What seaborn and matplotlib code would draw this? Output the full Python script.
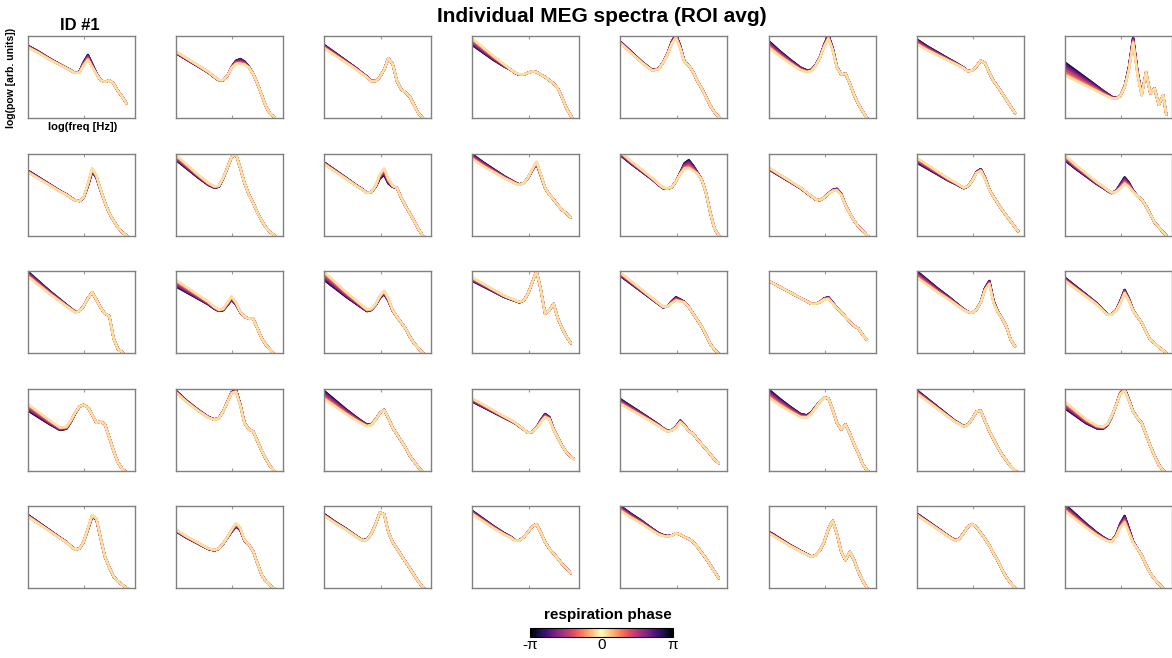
import numpy as np
import pandas as pd
import matplotlib
matplotlib.use("Agg")
import matplotlib.pyplot as plt
import seaborn as sns
from matplotlib.colors import ListedColormap, Normalize
from matplotlib.cm import ScalarMappable

sns.set_theme(style="white")
plt.rcParams["font.family"] = ["Liberation Sans", "DejaVu Sans"]
plt.rcParams["text.color"] = "black"
plt.rcParams["xtick.color"] = "black"

nan = np.nan
# frequency grid (Hz) shared by all spectra
FREQ_HZ = [1.0, 1.55, 2.4, 3.7, 4.8, 5.75, 6.85, 8.2, 9.7, 11.6, 13.8, 16.4,
           19.6, 23.3, 27.8, 33.1, 39.4, 47.0, 56.0, 63.8]

# phase-averaged log power per participant (arb. units)
ID01 = [.87, .80, .72, .65, .61, .58, .55, .56, .66, .74, .64, .54, .46, .44, .46, .42, .33, .26, .18, nan]
ID02 = [.80, .72, .64, .56, .50, .46, .46, .52, .62, .68, .69, .67, .62, .54, .42, .28, .14, .05, .01, nan]
ID03 = [.87, .78, .69, .60, .54, .50, .45, .45, .50, .59, .73, .66, .45, .35, .31, .26, .16, .06, 0.0, -.05]
ID04 = [.93, .83, .73, .64, .59, .55, .53, .53, .55, .57, .56, .53, .50, .46, .42, .36, .25, .12, .03, -.03]
ID05 = [.92, .80, .68, .58, .60, .68, .78, .92, 1.0, .86, .68, .64, .56, .45, .36, .26, .15, .07, .01, -.03]
ID06 = [.90, .79, .69, .60, .57, .58, .64, .74, .88, .99, .84, .62, .53, .54, .42, .28, .17, .08, 0.0, -.04]
ID07 = [.93, .85, .78, .71, .67, .64, .61, .57, .58, .63, .70, .67, .55, .45, .38, .30, .22, .14, .06, nan]
ID08 = [.60, .52, .44, .36, .31, .28, .25, .24, .27, .38, .60, .95, .55, .28, .56, .30, .36, .16, .28, .04]
ID09 = [.78, .70, .62, .54, .50, .46, .43, .42, .46, .62, .80, .72, .55, .40, .27, .18, .10, .04, 0.0, -.03]
ID10 = [.95, .84, .73, .63, .59, .60, .70, .83, .96, .99, .82, .64, .50, .40, .28, .18, .10, .04, 0.0, -.03]
ID11 = [.88, .79, .70, .61, .56, .52, .53, .60, .72, .78, .66, .60, .58, .46, .36, .27, .18, .08, 0.0, -.03]
ID12 = [.96, .87, .79, .71, .67, .64, .62, .64, .70, .80, .89, .74, .58, .50, .44, .37, .31, .27, .22, nan]
ID13 = [1.0, .89, .79, .69, .62, .58, .57, .59, .66, .76, .85, .87, .82, .76, .68, .52, .28, .08, 0.0, -.03]
ID14 = [.82, .74, .66, .58, .52, .48, .44, .43, .46, .51, .55, .56, .50, .37, .27, .18, .11, .06, 0.0, -.03]
ID15 = [.92, .84, .76, .68, .64, .61, .58, .60, .67, .77, .80, .70, .56, .47, .39, .31, .24, .17, .10, .05]
ID16 = [.95, .84, .74, .64, .59, .55, .52, .54, .60, .67, .62, .54, .48, .44, .36, .26, .16, .10, .04, 0.0]
ID17 = [.96, .85, .74, .64, .58, .54, .50, .51, .57, .67, .74, .65, .55, .48, .45, .18, .05, .01, -.04, nan]
ID18 = [.85, .77, .69, .61, .55, .52, .53, .60, .67, .60, .50, .44, .42, .42, .30, .18, .10, .04, -.02, nan]
ID19 = [.94, .83, .72, .62, .56, .52, .53, .59, .68, .74, .65, .52, .44, .37, .30, .20, .12, .06, 0.0, -.03]
ID20 = [.90, .83, .76, .69, .66, .64, .62, .64, .72, .86, 1.0, .78, .48, .52, .60, .42, .30, .20, .12, nan]
ID21 = [.96, .86, .76, .66, .60, .56, .57, .62, .66, .64, .62, .56, .48, .40, .32, .22, .11, .04, -.01, nan]
ID22 = [.88, .81, .74, .67, .63, .60, .60, .62, .66, .67, .61, .55, .50, .44, .38, .33, .30, .22, .16, nan]
ID23 = [.96, .86, .76, .67, .61, .57, .53, .50, .49, .53, .62, .78, .86, .62, .50, .42, .32, .16, .08, nan]
ID24 = [.90, .80, .70, .60, .52, .47, .47, .52, .62, .75, .65, .52, .44, .37, .26, .16, .12, .07, .03, 0.0]
ID25 = [.77, .68, .59, .51, .52, .60, .70, .78, .80, .77, .68, .58, .60, .56, .40, .24, .10, .02, -.02, nan]
ID26 = [.96, .84, .74, .65, .62, .64, .72, .84, .95, .97, .80, .58, .50, .48, .36, .24, .14, .05, -.01, nan]
ID27 = [.92, .82, .72, .63, .58, .55, .56, .62, .70, .74, .64, .52, .44, .36, .28, .18, .11, .04, -.02, nan]
ID28 = [.86, .79, .72, .65, .61, .58, .54, .50, .46, .47, .52, .60, .67, .64, .50, .40, .30, .22, .17, .14]
ID29 = [.84, .76, .68, .60, .55, .51, .48, .49, .53, .60, .55, .48, .45, .38, .32, .26, .20, .13, .09, nan]
ID30 = [.94, .84, .75, .67, .66, .70, .77, .84, .89, .88, .74, .58, .50, .56, .45, .32, .21, .08, 0.0, -.03]
ID31 = [.96, .86, .76, .66, .60, .57, .54, .56, .63, .72, .73, .60, .48, .38, .28, .19, .12, .05, 0.0, -.03]
ID32 = [.80, .70, .60, .53, .52, .56, .66, .80, .94, .99, .86, .72, .64, .58, .44, .30, .18, .07, 0.0, -.03]
ID33 = [.88, .79, .70, .61, .56, .51, .47, .48, .56, .72, .88, .84, .60, .38, .25, .14, .08, .04, 0.0, -.03]
ID34 = [.70, .62, .55, .48, .46, .48, .54, .62, .70, .77, .72, .58, .53, .45, .30, .16, .08, .03, -.01, nan]
ID35 = [.89, .80, .72, .63, .58, .59, .66, .78, .92, .90, .68, .56, .48, .40, .32, .24, .16, .08, .01, -.02]
ID36 = [.92, .83, .74, .66, .62, .58, .58, .62, .68, .75, .78, .68, .56, .48, .42, .36, .29, .24, .18, nan]
ID37 = [.97, .88, .80, .71, .66, .64, .63, .64, .67, .65, .62, .60, .56, .50, .43, .36, .28, .20, .12, nan]
ID38 = [.68, .60, .52, .45, .41, .38, .40, .46, .56, .72, .82, .66, .44, .34, .44, .34, .20, .09, 0.0, -.03]
ID39 = [.90, .81, .72, .63, .58, .60, .67, .75, .78, .74, .67, .60, .52, .42, .33, .22, .13, .06, 0.0, -.03]
ID40 = [.98, .87, .76, .66, .61, .58, .57, .64, .76, .84, .70, .56, .48, .40, .28, .18, .11, .05, 0.0, -.03]

SUBJECTS = [ID01, ID02, ID03, ID04, ID05, ID06, ID07, ID08, ID09, ID10,
            ID11, ID12, ID13, ID14, ID15, ID16, ID17, ID18, ID19, ID20,
            ID21, ID22, ID23, ID24, ID25, ID26, ID27, ID28, ID29, ID30,
            ID31, ID32, ID33, ID34, ID35, ID36, ID37, ID38, ID39, ID40]

# respiration-phase modulation (half range; + = phases near ±pi higher)
SPREAD_LOW = [0.01, -0.01, 0.02, -0.04, 0.01, 0.04, 0.03, 0.08,
              0.01, -0.03, 0.01, 0.03, -0.02, -0.01, -0.03, -0.03,
              0.03, -0.04, -0.05, -0.02, -0.02, 0.0, 0.04, 0.02,
              -0.04, 0.01, 0.05, -0.02, 0.03, 0.05, 0.02, -0.04,
              0.01, -0.01, 0.01, 0.02, 0.03, 0.01, 0.01, 0.04]
SPREAD_PEAK = [0.03, 0.03, 0.0, 0.01, 0.02, 0.02, 0.0, 0.03,
               -0.02, 0.0, -0.04, -0.01, 0.05, 0.01, 0.01, 0.04,
               0.0, -0.02, -0.02, 0.0, 0.02, 0.01, 0.02, 0.02,
               0.0, 0.01, 0.0, 0.02, 0.01, 0.0, 0.0, 0.01,
               -0.01, -0.02, 0.0, 0.0, 0.0, 0.0, 0.0, 0.04]

N_PHASE = 16
PHASES = np.linspace(-np.pi, np.pi, N_PHASE, endpoint=False) + np.pi / N_PHASE

W, H = 1172, 658
fig = plt.figure(figsize=(W / 100, H / 100), dpi=100)

logf = np.log10(FREQ_HZ)
XMAX = 1.9
xn = logf / XMAX
w_low = np.clip(1 - xn / 0.5, 0, 1)

for i, sub in enumerate(SUBJECTS):
    r, c = divmod(i, 8)
    left = 28 + c * 148.1
    top = 36 + r * 117.5
    ax = fig.add_axes([left / W, 1 - (top + 82) / H, 107 / W, 82 / H])
    base = np.array(sub, float)
    masked = np.where(xn >= 0.3, np.nan_to_num(base, nan=-9), -9)
    xpk = xn[np.argmax(masked)]
    w_pk = np.exp(-((xn - xpk) / 0.06) ** 2)
    rows = []
    for k, ph in enumerate(PHASES):
        y = base - np.cos(ph) * (SPREAD_LOW[i] * w_low + SPREAD_PEAK[i] * w_pk)
        tone = 1 - abs(ph) / np.pi
        for xv, yv in zip(logf, y):
            if np.isfinite(yv):
                rows.append((xv, yv, tone, k))
    df = pd.DataFrame(rows, columns=["logf", "pow", "tone", "phase"])
    sns.lineplot(data=df, x="logf", y="pow", hue="tone", units="phase",
                 estimator=None, palette="magma", hue_norm=(0, 1),
                 legend=False, linewidth=1.6, alpha=0.85, sort=False, ax=ax)
    ax.set_xlim(0, XMAX)
    ax.set_ylim(0, 1)
    ax.set_xlabel("")
    ax.set_ylabel("")
    ax.set_xticks([1.0])
    ax.set_yticks([])
    ax.tick_params(axis="x", direction="in", length=2, top=True, bottom=True,
                   labelbottom=False, color="0.6", width=0.8)
    for sp in ax.spines.values():
        sp.set_color("0.5")
        sp.set_linewidth(1.0)

fig.text(602 / W, 1 - 16 / H, "Individual MEG spectra (ROI avg)", ha="center",
         va="center", fontsize=15, fontweight="bold")
fig.text(80 / W, 1 - 25 / H, "ID #1", ha="center", va="center",
         fontsize=12, fontweight="bold")
fig.text(11 / W, 1 - 78 / H, "log(pow [arb. units])", ha="center", va="center",
         rotation=90, fontsize=7.5, fontweight="bold")
fig.text(83 / W, 1 - 127 / H, "log(freq [Hz])", ha="center", va="center",
         fontsize=8, fontweight="bold")

# cyclic colour bar for respiration phase
vals = 1 - np.abs(np.linspace(-1, 1, 256))
cyc = ListedColormap(plt.get_cmap("magma")(vals))
cax = fig.add_axes([530 / W, 1 - 637 / H, 143 / W, 9 / H])
cb = fig.colorbar(ScalarMappable(norm=Normalize(-np.pi, np.pi), cmap=cyc),
                  cax=cax, orientation="horizontal")
cb.set_ticks([-np.pi, 0, np.pi])
cb.set_ticklabels(["-π", "0", "π"])
cax.tick_params(length=0, labelsize=11, pad=1, labelcolor="black")
cb.outline.set_edgecolor("black")
cb.outline.set_linewidth(0.8)
fig.text(608 / W, 1 - 615 / H, "respiration phase", ha="center", va="center",
         fontsize=11, fontweight="bold")

fig.savefig("out.png", dpi=100)
